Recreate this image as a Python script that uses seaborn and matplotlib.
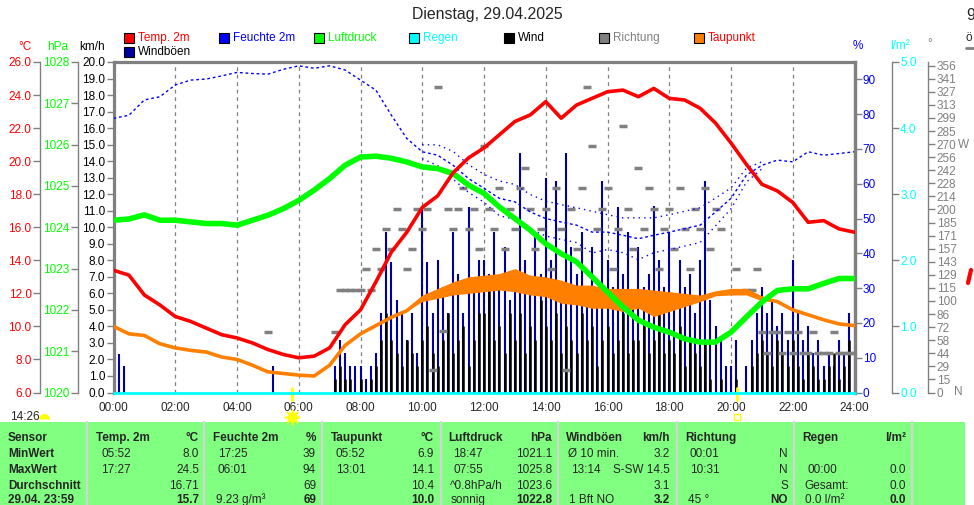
import numpy as np
import matplotlib
matplotlib.use("Agg")
import matplotlib.pyplot as plt
import seaborn as sns
from matplotlib.patches import Rectangle
from matplotlib.lines import Line2D
from matplotlib.markers import MarkerStyle

# ---------------- Daten ----------------
nan = np.nan
halbstunden = np.linspace(0, 24, 49)      # 00:00 .. 24:00, alle 30 min
zehnminuten = np.linspace(0, 24, 145)     # 00:00 .. 24:00, alle 10 min

temp = [13.4, 13.1, 11.9, 11.3, 10.6, 10.3, 9.9, 9.5, 9.3, 9.0, 8.6, 8.3, 8.1, 8.2, 8.7, 10.1,
        11.0, 12.7, 14.5, 15.7, 17.2, 17.9, 19.3, 20.2, 20.8, 21.6, 22.4, 22.8, 23.6, 22.6, 23.4,
        23.8, 24.2, 24.3, 23.9, 24.4, 23.8, 23.7, 23.2, 22.3, 21.1, 19.8, 18.6, 18.2, 17.5, 16.3,
        16.4, 15.9, 15.7]

taupunkt = [10.0, 9.55, 9.45, 8.95, 8.7, 8.55, 8.45, 8.15, 8.0, 7.65, 7.25, 7.15, 7.05, 7.0, 7.65,
            8.85, 9.55, 10.05, 10.55, 10.95, 11.7, 12.0, 12.3, 12.5, 12.6, 12.7, 12.8, 12.5, 12.4,
            12.1, 11.9, 11.8, 11.7, 11.6, 11.7, 11.4, 11.5, 11.6, 11.7, 12.0, 12.1, 12.1, 11.7, 11.5,
            11.0, 10.7, 10.4, 10.15, 10.05]
taupunkt_streuung = [0.0, 0.0, 0.0, 0.0, 0.0, 0.0, 0.0, 0.0, 0.0, 0.0, 0.0, 0.0, 0.0, 0.0, 0.0,
                     0.0, 0.0, 0.0, 0.0, 0.0, 0.2, 0.3, 0.4, 0.5, 0.5, 0.5, 0.7, 0.6, 0.6, 0.7,
                     0.6, 0.7, 0.6, 0.7, 0.6, 0.8, 0.6, 0.4, 0.2, 0.15, 0.2, 0.2, 0.15, 0.0, 0.0,
                     0.0, 0.0, 0.0, 0.0]

luftdruck = [1024.17, 1024.2, 1024.3, 1024.17, 1024.17, 1024.13, 1024.09, 1024.09, 1024.05,
             1024.17, 1024.29, 1024.45, 1024.65, 1024.9, 1025.18, 1025.5, 1025.7, 1025.72,
             1025.67, 1025.58, 1025.46, 1025.42, 1025.3, 1025.02, 1024.82, 1024.49, 1024.21,
             1023.93, 1023.6, 1023.36, 1023.16, 1022.8, 1022.43, 1022.07, 1021.75, 1021.58,
             1021.46, 1021.3, 1021.22, 1021.22, 1021.46, 1021.83, 1022.19, 1022.47, 1022.51,
             1022.51, 1022.64, 1022.76, 1022.76]

feuchte = [78.8, 79.7, 84.1, 85.0, 88.4, 89.8, 90.1, 91.0, 92.0, 91.7, 91.5, 92.9, 93.9, 93.2,
           93.9, 92.7, 89.8, 86.9, 79.7, 73.0, 69.2, 68.2, 65.3, 61.5, 58.7, 55.8, 54.8, 51.9,
           50.0, 49.0, 48.1, 46.1, 46.1, 45.2, 44.2, 45.2, 46.1, 47.1, 48.1, 51.9, 55.8, 62.5,
           65.3, 66.8, 66.3, 69.2, 68.2, 68.7, 69.2]
feuchte_streuung = [0, 0, 0, 0, 0, 0, 0, 0, 0, 0, 0, 0, 0, 0, 0, 0, 0, 0, 0, 0, 2, 3, 4, 4, 4,
                    5, 5, 5, 5, 5, 5, 6, 5, 5, 6, 5, 5, 5, 5, 4, 3, 2, 1, 0, 0, 0, 0, 0, 0]

regen_zeit = [0, 24]
regen = [0.0, 0.0]

windboeen = [1.6, 2.3, 1.6, 0, 0, 0,
             0, 0, 0, 0, 0, 0,
             0, 0, 0, 0, 0, 0,
             0, 0, 0, 0, 0, 0,
             0, 0, 0, 0, 0, 0,
             0, 1.6, 0, 0, 0, 0,
             0, 0, 0, 0, 0, 0,
             0, 1.6, 3.2, 2.4, 1.6, 1.6,
             1.6, 0.8, 1.6, 2.4, 4.8, 9.7,
             7.9, 5.6, 4.8, 3.2, 4.8, 2.4,
             11.2, 7.9, 4.8, 8.0, 6.4, 4.8,
             9.7, 7.2, 4.8, 11.2, 6.4, 8.0,
             8.0, 7.2, 9.7, 6.4, 8.8, 5.6,
             7.2, 14.5, 8.0, 6.4, 9.7, 7.2,
             13.0, 8.0, 12.8, 6.4, 14.5, 8.8,
             7.2, 9.7, 5.6, 8.8, 6.4, 12.8,
             8.0, 6.4, 11.2, 7.2, 9.7, 5.6,
             8.8, 6.4, 7.2, 11.3, 8.0, 6.4,
             9.7, 5.6, 8.0, 6.4, 7.2, 4.8,
             8.0, 12.8, 5.6, 4.0, 3.2, 1.6,
             1.6, 3.2, 0, 1.6, 3.2, 4.8,
             6.4, 4.8, 5.6, 4.0, 4.8, 3.2,
             8.0, 4.8, 3.2, 4.0, 2.4, 3.2,
             1.6, 2.4, 1.6, 3.2, 2.4, 4.8,
             2.4]

wind = [0, 0, 0, 0, 0, 0,
        0, 0, 0, 0, 0, 0,
        0, 0, 0, 0, 0, 0,
        0, 0, 0, 0, 0, 0,
        0, 0, 0, 0, 0, 0,
        0, 0, 0, 0, 0, 0,
        0, 0, 0, 0, 0, 0,
        0, 0.8, 1.6, 0.8, 0.8, 0,
        0.8, 0, 0.8, 1.6, 3.2, 4.8,
        3.2, 2.4, 1.6, 3.2, 2.4, 1.6,
        3.2, 4.0, 2.4, 1.6, 3.2, 4.8,
        2.4, 3.2, 4.0, 1.6, 3.2, 4.8,
        4.8, 6.4, 3.2, 4.0, 2.4, 4.8,
        3.2, 4.8, 2.4, 4.0, 3.2, 5.6,
        4.0, 3.2, 4.8, 2.4, 4.0, 3.2,
        2.4, 4.8, 3.2, 4.0, 1.6, 3.2,
        4.0, 2.4, 3.2, 4.8, 2.4, 3.2,
        3.2, 4.0, 2.4, 3.2, 4.8, 2.4,
        3.2, 2.4, 4.0, 1.6, 3.2, 2.4,
        1.6, 3.2, 0.8, 0, 0.8, 0,
        0, 0.8, 0, 0, 1.6, 2.4,
        3.2, 2.4, 1.6, 3.2, 2.4, 1.6,
        3.2, 1.6, 0.8, 2.4, 1.6, 0.8,
        0.8, 1.6, 2.4, 0.8, 1.6, 3.2,
        1.6]

richtung = [0, nan, nan, nan, nan, nan,
            nan, nan, nan, nan, nan, nan,
            nan, nan, nan, nan, nan, nan,
            nan, nan, nan, nan, nan, nan,
            nan, nan, nan, nan, nan, nan,
            66, nan, nan, nan, nan, nan,
            nan, nan, nan, nan, nan, nan,
            nan, 66, 112, 112, 112, 112,
            112, 135, 112, 156, 135, 178,
            156, 200, 178, 135, 156, 200,
            178, 200, 24, 333, 67, 200,
            178, 200, 223, 178, 200, 156,
            268, 200, 178, 223, 156, 200,
            178, 223, 245, 200, 156, 178,
            200, 135, 223, 178, 24, 200,
            156, 223, 333, 268, 178, 200,
            223, 135, 178, 290, 200, 156,
            245, 178, 223, 200, 135, 178,
            200, 156, 223, 178, 135, 200,
            178, 223, 156, 200, 178, nan,
            nan, 135, nan, 112, 112, 135,
            66, 43, 66, 66, 43, 66,
            43, 66, 43, 43, 66, 43,
            43, 43, 66, 43, 43, 43,
            43]

richtung_labels = ["0", "15", "29", "44", "58", "72", "86", "100", "115", "129", "143", "157",
                   "171", "185", "200", "214", "228", "242", "256", "270", "285", "299", "313",
                   "327", "341", "356"]
zeit_labels = ["00:00", "02:00", "04:00", "06:00", "08:00", "10:00", "12:00", "14:00",
               "16:00", "18:00", "20:00", "22:00", "24:00"]

sonnenaufgang = 5.78
sonnenuntergang = 20.21

# Tabelle
zeilen = ["Sensor", "MinWert", "MaxWert", "Durchschnitt", "29.04. 23:59"]
kopf = ["Temp. 2m", "Feuchte 2m", "Taupunkt", "Luftdruck", "Windböen", "Richtung", "Regen"]
einheit = ["°C", "%", "°C", "hPa", "km/h", "", "l/m²"]
min_text = ["05:52", "17:25", "05:52", "18:47", "Ø 10 min.", "00:01", ""]
min_wert = ["8.0", "39", "6.9", "1021.1", "3.2", "N", ""]
max_text = ["17:27", "06:01", "13:01", "07:55", "13:14", "10:31", "00:00"]
max_wert = ["24.5", "94", "14.1", "1025.8", "S-SW 14.5", "N", "0.0"]
mittel_text = ["", "", "", "^0.8hPa/h", "", "", "Gesamt:"]
mittel_wert = ["16.71", "69", "10.4", "1023.6", "3.1", "S", "0.0"]
akt_text = ["", "9.23 g/m³", "", "sonnig", "1 Bft NO", "45 °", "0.0 l/m²"]
akt_wert = ["15.7", "69", "10.0", "1022.8", "3.2", "NO", "0.0"]

# ---------------- Farben / Stil ----------------
ROT, BLAU, GRUEN, CYAN = "#FF0000", "#0000FF", "#00FF00", "#00FFFF"
GRAU, ORANGE, NAVY, GELB = "#808080", "#FF8000", "#0000A0", "#FFFF00"
TAB_GRUEN = "#80FF80"

sns.set_style("white")
plt.rcParams['font.family'] = ['Liberation Sans', 'DejaVu Sans']
FETT = ['Liberation Sans', 'DejaVu Sans']
FS = 8.5

W, H = 974, 505
def fx(px):
    return px / W
def fy(py):
    return 1 - py / H

fig = plt.figure(figsize=(W / 100, H / 100), dpi=100)
links, rechts, unten, oben = 113.5, 854.5, 392.5, 62
ax = fig.add_axes([fx(links), fy(unten), (rechts - links) / W, (unten - oben) / H])
ax.set_xlim(0, 24)
ax.set_ylim(0, 20)

# Haupt-Achse km/h
ax.set_xticks(range(0, 25, 2))
ax.set_xticklabels(zeit_labels)
ax.set_yticks(range(0, 21))
ax.set_yticklabels([f"{v:.1f}" for v in range(0, 21)])
ax.set_yticks(range(2, 20, 2), minor=True)
ax.tick_params(axis='x', length=0, pad=7, labelsize=FS)
ax.tick_params(axis='y', which='major', color=GRAU, length=5, width=1, pad=1, labelsize=FS,
               labelcolor='black', direction='out')
ax.tick_params(axis='y', which='minor', length=0)
ax.grid(which='major', axis='x', color=GRAU, lw=0.9, ls=(0, (3, 3)))
ax.grid(which='minor', axis='y', color=GRAU, lw=0.9, ls=(0, (3, 3)))
for s in ['left', 'top', 'right']:
    ax.spines[s].set_color(GRAU)
    ax.spines[s].set_linewidth(2.3)
ax.spines['bottom'].set_visible(False)

# Windböen und Wind: senkrechte Striche
ax.vlines(zehnminuten, 0, windboeen, color=NAVY, lw=1.5)
ax.vlines(zehnminuten, 0, wind, color='black', lw=1.8)


def neue_achse(seite, pos, lo, hi, ticks=None, labels=None, farbe=None, lw=1.0):
    a = ax.twinx()
    a.set_ylim(lo, hi)
    for s in a.spines.values():
        s.set_visible(False)
    if ticks is None:
        a.set_yticks([])
        return a
    sp = a.spines[seite]
    sp.set_visible(True)
    sp.set_position(('axes', pos))
    sp.set_color(GRAU)
    sp.set_linewidth(lw)
    if seite == 'left':
        a.yaxis.tick_left()
    else:
        a.yaxis.tick_right()
    a.set_yticks(ticks)
    a.set_yticklabels(labels)
    a.tick_params(axis='y', color=GRAU, labelcolor=farbe, length=5, width=1, pad=1,
                  labelsize=FS, direction='out')
    return a


breite = rechts - links
ax_richtung = neue_achse('right', (928.3 - links) / breite, 0, 360,
                         np.linspace(0, 356, 26), richtung_labels, GRAU)
ax_feuchte = neue_achse('right', 1.0, 0, 95, range(0, 91, 10),
                        [str(v) for v in range(0, 91, 10)], BLAU, lw=2.3)
ax_regen = neue_achse('right', (891.7 - links) / breite, 0, 5, range(0, 6),
                      [f"{v:.1f}" for v in range(0, 6)], CYAN)
ax_tau = neue_achse('left', 0, 6, 26)
ax_druck = neue_achse('left', (78 - links) / breite, 1020, 1028, range(1020, 1029),
                      [str(v) for v in range(1020, 1029)], GRUEN)
ax_temp = neue_achse('left', (40 - links) / breite, 6, 26, range(6, 27, 2),
                     [f"{v:.1f}" for v in range(6, 27, 2)], ROT)

# Richtung als kurze graue Striche
sns.scatterplot(x=zehnminuten, y=richtung, ax=ax_richtung, marker='_', s=30, color=GRAU,
                linewidth=2.5)

# Feuchte (gepunktet) mit Streuband
f = np.array(feuchte)
fs = np.array(feuchte_streuung, dtype=float)
fs_mask = np.where(fs > 0, fs, nan)
sns.lineplot(x=halbstunden, y=f, ax=ax_feuchte, color=BLAU, lw=1.0, linestyle=(0, (2, 2)))
sns.lineplot(x=halbstunden, y=f + fs_mask, ax=ax_feuchte, color=BLAU, lw=1.0, linestyle=(0, (1, 3)))
sns.lineplot(x=halbstunden, y=f - fs_mask, ax=ax_feuchte, color=BLAU, lw=1.0, linestyle=(0, (1, 3)))

# Regen
sns.lineplot(x=regen_zeit, y=regen, ax=ax_regen, color=CYAN, lw=2, clip_on=False)

# Taupunkt
tp = np.array(taupunkt)
ts = np.array(taupunkt_streuung)
ax_tau.fill_between(halbstunden, tp - ts, tp + ts, color=ORANGE, lw=0)
sns.lineplot(x=halbstunden, y=tp, ax=ax_tau, color=ORANGE, lw=2.6)

# Luftdruck
sns.lineplot(x=halbstunden, y=luftdruck, ax=ax_druck, color=GRUEN, lw=4)

# Temperatur
sns.lineplot(x=halbstunden, y=temp, ax=ax_temp, color=ROT, lw=2.6)

for a in [ax_richtung, ax_feuchte, ax_regen, ax_tau, ax_druck, ax_temp]:
    a.set_xlabel("")
    a.set_ylabel("")
    a.set_xlim(0, 24)

# Sonnenauf-/-untergang
for t in [sonnenaufgang, sonnenuntergang]:
    ax.plot([t, t], [0.25, -0.45], color=GELB, lw=2, clip_on=False)
ax.plot(sonnenaufgang, -1.5, marker=(8, 2, 0), ms=11, color=GELB, mew=1.2, clip_on=False)
ax.plot(sonnenaufgang, -1.5, marker='o', ms=6, color=GELB, mec=GELB, clip_on=False)
ax.plot(sonnenuntergang, -1.5, marker='s', ms=5, mfc='none', mec=GELB, mew=1, clip_on=False)
ax.set_ylim(0, 20)

# Titel und Einheiten
fig.text(fx(487), fy(15), "Dienstag, 29.04.2025", ha='center', va='center', fontsize=11.4)
for txt, x, y, c in [("°C", 25, 47, ROT), ("hPa", 58, 47, GRUEN), ("km/h", 92, 47, 'black'),
                     ("%", 858, 46, BLAU), ("l/m²", 900, 46, CYAN), ("°", 930, 44, GRAU)]:
    fig.text(fx(x), fy(y), txt, color=c, ha='center', va='center', fontsize=FS)
fig.text(fx(958), fy(145), "W", color=GRAU, ha='left', va='center', fontsize=FS)
fig.text(fx(954), fy(392), "N", color=GRAU, ha='left', va='center', fontsize=FS)

# Legende
leg_namen = ["Temp. 2m", "Feuchte 2m", "Luftdruck", "Regen", "Wind", "Richtung", "Taupunkt",
             "Windböen"]
leg_kasten = [ROT, BLAU, GRUEN, CYAN, "black", GRAU, ORANGE, NAVY]
leg_text = [ROT, BLAU, GRUEN, CYAN, "black", GRAU, ROT, "black"]
for i, name in enumerate(leg_namen):
    x, y = (124 + 95 * i, 38) if i < 7 else (124, 52)
    fig.add_artist(Rectangle((fx(x), fy(y + 5)), 10 / W, 10 / H, facecolor=leg_kasten[i],
                             edgecolor='black', lw=0.8, transform=fig.transFigure))
    fig.text(fx(x + 14), fy(y), name, color=leg_text[i], ha='left', va='center', fontsize=FS)

# Tageslaenge
fig.text(fx(10), fy(417), "14:26", ha='left', va='center', fontsize=FS)
fig.add_artist(Line2D([fx(44)], [fy(419)], marker=MarkerStyle('o', fillstyle='top'), ms=8,
                      mfc=GELB, mec='none', mfcalt='none', transform=fig.transFigure))

# Tabelle
fig.add_artist(Rectangle((0, 0), fx(965), fy(422), facecolor=TAB_GRUEN, edgecolor='none',
                         transform=fig.transFigure, zorder=0))
for xs in [87, 204, 322, 441, 558, 677, 794, 912]:
    fig.add_artist(Line2D([fx(xs), fx(xs)], [fy(422), 0], color='#d4d4d4', lw=1.6,
                          transform=fig.transFigure))
zeilen_y = [438, 454, 470, 486, 500]
spalte_l = [96, 213, 331, 448, 566, 685, 802]
spalte_r = [199, 316, 434, 552, 670, 788, 906]
for j, z in enumerate(zeilen):
    fig.text(fx(8), fy(zeilen_y[j]), z, ha='left', va='center', fontsize=8.5,
             weight='bold', family=FETT)
for i in range(7):
    l, r = spalte_l[i], spalte_r[i]
    fig.text(fx(l), fy(zeilen_y[0]), kopf[i], ha='left', va='center', fontsize=8.5,
             weight='bold', family=FETT)
    fig.text(fx(r), fy(zeilen_y[0]), einheit[i], ha='right', va='center', fontsize=8.5,
             weight='bold', family=FETT)
    for k, (lt, rt) in enumerate([(min_text[i], min_wert[i]), (max_text[i], max_wert[i]),
                                  (mittel_text[i], mittel_wert[i])]):
        off = 5 if lt[:1].isdigit() else 2
        fig.text(fx(l + off), fy(zeilen_y[k + 1]), lt, ha='left', va='center', fontsize=FS)
        fig.text(fx(r), fy(zeilen_y[k + 1]), rt, ha='right', va='center', fontsize=FS)
    fig.text(fx(l + 3), fy(zeilen_y[4]), akt_text[i], ha='left', va='center', fontsize=FS)
    fig.text(fx(r), fy(zeilen_y[4]), akt_wert[i], ha='right', va='center', fontsize=8.5,
             weight='bold', family=FETT)

# Rand rechts (angeschnittene Nachbargrafik)
fig.text(fx(966), fy(15), "9", ha='left', va='center', fontsize=11.4)
fig.text(fx(966), fy(38), "ö", ha='left', va='center', fontsize=FS)
fig.add_artist(Line2D([fx(966), fx(974)], [fy(48), fy(48)], color=GRAU, lw=2,
                      transform=fig.transFigure))
fig.add_artist(Line2D([fx(968), fx(971)], [fy(283), fy(270)], color=ROT, lw=3,
                      transform=fig.transFigure))

fig.savefig("out.png", dpi=100)
